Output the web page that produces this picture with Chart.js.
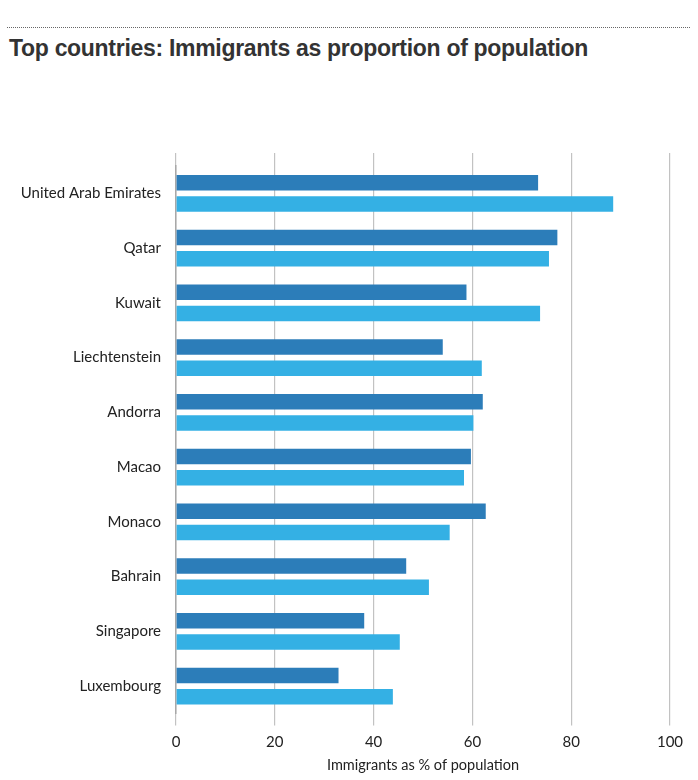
<!DOCTYPE html>
<html>
<head>
<meta charset="utf-8">
<script src="https://cdn.jsdelivr.net/npm/chart.js"></script>
<style>
  body { margin: 0; background: #fff; width: 698px; height: 780px; position: relative; overflow: hidden; }
  .rule { position: absolute; left: 7px; right: 8px; top: 27px; border-top: 1px dotted #666; }
  h1 { position: absolute; left: 9px; top: 35px; margin: 0; font: bold 23px "Liberation Sans", Arial, sans-serif; color: #333; letter-spacing: -0.3px; }
  #wrap { position: absolute; left: 0; top: 70px; width: 698px; height: 710px; }
</style>
</head>
<body>
<div class="rule"></div>
<h1>Top countries: Immigrants as proportion of population</h1>
<div id="wrap"><canvas id="chart"></canvas></div>
<script>
// Data
const countries = ["United Arab Emirates", "Qatar", "Kuwait", "Liechtenstein", "Andorra",
  "Macao", "Monaco", "Bahrain", "Singapore", "Luxembourg"];
const seriesA = [73.3, 77.2, 58.8, 54.0, 62.1, 59.7, 62.7, 46.6, 38.1, 32.9];
const seriesB = [88.5, 75.5, 73.7, 61.9, 60.2, 58.3, 55.4, 51.2, 45.3, 43.9];
const xTicks = [0, 20, 40, 60, 80, 100];

const gridColor = "#c2c2c2";

new Chart(document.getElementById("chart"), {
  type: "bar",
  data: {
    labels: countries,
    datasets: [{
      data: seriesA,
      backgroundColor: "#2c7db9",
      categoryPercentage: 0.776,
      barPercentage: 0.72
    }, {
      data: seriesB,
      backgroundColor: "#34b0e4",
      categoryPercentage: 0.776,
      barPercentage: 0.72
    }]
  },
  options: {
    indexAxis: "y",
    responsive: true,
    maintainAspectRatio: false,
    animation: false,
    layout: { padding: { left: 0, right: 28, top: 83, bottom: 7 } },
    plugins: { legend: { display: false }, tooltip: { enabled: false } },
    scales: {
      x: {
        position: "bottom",
        min: 0, max: 100,
        afterBuildTicks: s => { s.ticks = xTicks.map(v => ({ value: v })); },
        grid: { color: gridColor, lineWidth: 1.2, tickLength: 12 },
        border: { display: false },
        ticks: { color: "#222", font: { family: "Lato", size: 15 }, padding: 8 },
        title: { display: true, text: "Immigrants as % of population", color: "#222",
          font: { family: "Lato", size: 14.5, lineHeight: 1.0 }, padding: { top: -1, bottom: 0 } }
      },
      x2: {
        position: "top",
        min: 0, max: 100,
        afterBuildTicks: s => { s.ticks = xTicks.map(v => ({ value: v })); },
        grid: { color: gridColor, lineWidth: 1.2, tickLength: 13, drawOnChartArea: false },
        border: { display: false },
        ticks: { display: false }
      },
      y: {
        afterFit: s => { s.width = 176; },
        grid: { display: false, drawTicks: false },
        border: { display: true, color: "#a8a8a8", width: 1.5 },
        ticks: { color: "#222", font: { family: "Lato", size: 15 }, padding: 15 }
      }
    }
  }
});
</script>
</body>
</html>
